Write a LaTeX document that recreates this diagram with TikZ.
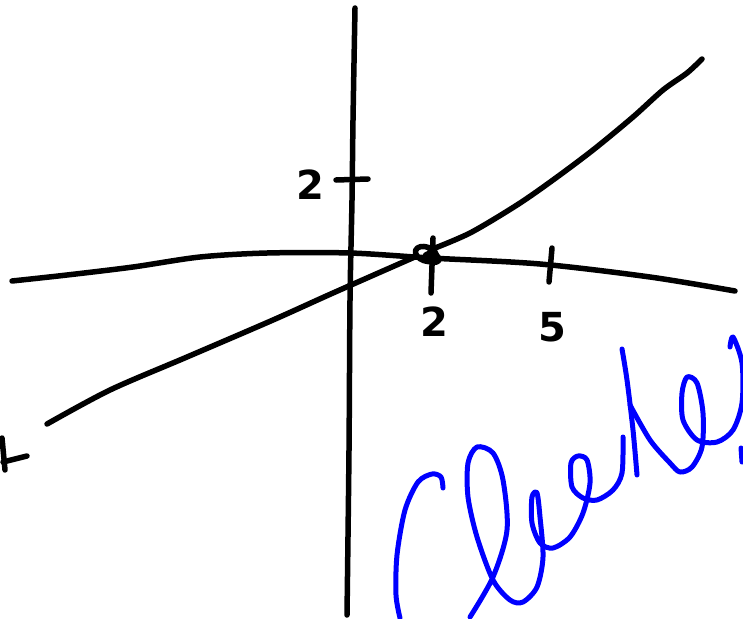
\documentclass[tikz,border=0pt]{standalone}
\usepackage{fontspec}
\setsansfont{DejaVu Sans}
\begin{document}
\begin{tikzpicture}[x=1pt,y=-1pt,
  ink/.style={line width=5.5pt,line cap=round,line join=round,black},
  blueink/.style={line width=5pt,line cap=round,line join=round,color={rgb,255:red,0;green,0;blue,255}},
  lbl/.style={font=\fontsize{40}{40}\selectfont\sffamily\bfseries,inner sep=0pt}]
\useasboundingbox (0,0) rectangle (743,618);
% vertical axis
\draw[ink] plot[smooth] coordinates {(355,8) (353,120) (352,200) (350,300) (349,450) (347,615)};
% horizontal curve
\draw[ink] plot[smooth] coordinates {(12,281) (67,275) (133,267) (200,257) (267,253) (350,253) (430,258) (540,264) (650,277) (735,291)};
% slanted line/curve
\draw[ink] plot[smooth] coordinates {(47,424) (110,390) (187,357) (273,320) (333,293) (417,256)};
\draw[ink] plot[smooth] coordinates {(430,250) (470,233) (517,205) (553,180) (593,150) (633,117) (663,90) (687,73) (702,59)};
% intersection blob
\draw[ink,rotate around={-20:(426,254)}] (426,254) ellipse (11pt and 7pt);
\fill[rotate around={-15:(432,258)}] (432,258) ellipse (10pt and 7pt);
% ticks
\draw[ink] (336,180) -- (368,179);
\draw[ink] (433,238) -- (431,293);
\draw[ink] (552,248) -- (549,282);
% left edge plus
\draw[ink] (2,438) -- (5,470);
\draw[ink] (3,462) -- (27,456);
% labels
\node[lbl] (l2y) at (310,185) {2};
\node[lbl] (l2x) at (434,322) {2};
\node[lbl] (l5x) at (552,327) {5};
% blue handwriting
\draw[blueink] plot[smooth] coordinates {(443,488) (441,477) (432,474) (418,482) (405,510) (397,555) (396,595) (400,618)};
\draw[blueink] plot[smooth] coordinates {(470,617) (493,577) (507,530) (503,480) (493,453) (477,447) (468,463) (468,497) (477,537) (493,580) (510,600) (523,602) (537,587) (543,557) (540,517) (537,493) (532,497) (532,523) (540,543) (553,548) (570,537) (583,513) (590,483) (587,460) (578,456) (571,463) (572,487) (583,498) (597,500) (613,490) (622,473) (623,437)};
\draw[blueink] plot[smooth] coordinates {(622,349) (627,380) (633,430) (637,475)};
\draw[blueink] plot[smooth] coordinates {(630,405) (650,440) (670,463) (680,472) (692,467) (702,447) (703,413) (697,383) (687,377) (682,393) (683,420) (697,440) (717,442) (733,430) (742,403) (742,363) (733,337) (730,347)};
\draw[blueink] (741,448) -- (742,462);
\end{tikzpicture}
\end{document}
